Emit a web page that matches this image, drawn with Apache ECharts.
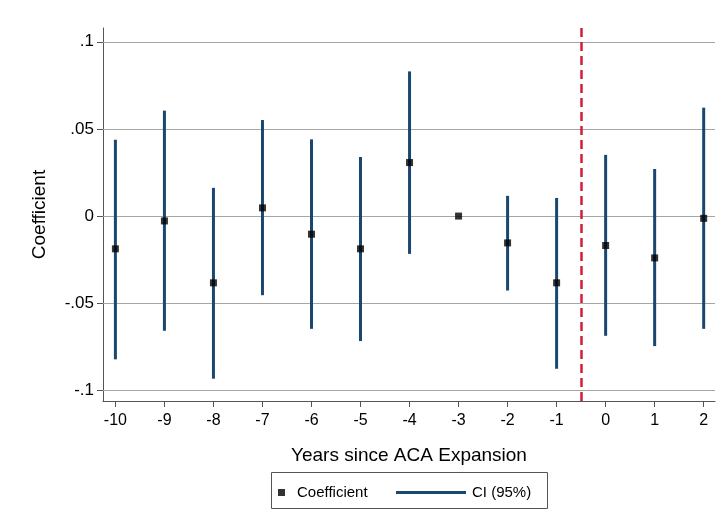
<!DOCTYPE html>
<html>
<head>
<meta charset="utf-8">
<script src="https://cdn.jsdelivr.net/npm/echarts@6/dist/echarts.min.js"></script>
<style>html,body{margin:0;padding:0;background:#fff;}#c{width:724px;height:529px;}</style>
</head>
<body>
<div id="c"></div>
<script>
const years = [-10, -9, -8, -7, -6, -5, -4, -3, -2, -1, 0, 1, 2];
const coef = [-0.0188, -0.0028, -0.0383, 0.0047, -0.0104, -0.0188, 0.0307, 0.0, -0.0154, -0.0383, -0.0169, -0.0240, -0.0013];
const ciLow = [-0.0822, -0.0658, -0.0933, -0.0454, -0.0647, -0.0717, -0.0217, 0.0, -0.0427, -0.0876, -0.0687, -0.0746, -0.0647];
const ciHigh = [0.0438, 0.0605, 0.0162, 0.0551, 0.0440, 0.0339, 0.0830, 0.0, 0.0116, 0.0104, 0.0351, 0.0270, 0.0622];
const yTicks = [-0.1, -0.05, 0, 0.05, 0.1];
const yTickLabels = ['-.1', '-.05', '0', '.05', '.1'];
const xTicks = years;
const expansionLine = -0.5;

const FONT = 'Liberation Sans, Arial, sans-serif';
const chart = echarts.init(document.getElementById('c'));

const ciData = years.map((y, i) => [y, ciLow[i], ciHigh[i]]);
const ptData = years.map((y, i) => [y, coef[i]]);

chart.setOption({
  animation: false,
  backgroundColor: '#fff',
  grid: { left: 103, right: 9, top: 28, bottom: 128 },
  xAxis: {
    type: 'value', min: -10.253, max: 2.231,
    axisLine: { show: true, onZero: false, lineStyle: { color: '#555', width: 1 } },
    axisTick: { show: true, customValues: xTicks, length: 6, lineStyle: { color: '#555' } },
    axisLabel: { customValues: xTicks, fontSize: 16, color: '#000', fontFamily: FONT, margin: 12 },
    splitLine: { show: false },
    name: 'Years since ACA Expansion', nameLocation: 'middle', nameGap: 45,
    nameTextStyle: { fontSize: 19, color: '#000', fontFamily: FONT }
  },
  yAxis: {
    type: 'value', min: -0.1061, max: 0.1079,
    axisLine: { show: true, onZero: false, lineStyle: { color: '#555', width: 1 } },
    axisTick: { show: true, customValues: yTicks, length: 6, lineStyle: { color: '#555' } },
    axisLabel: { customValues: yTicks, fontSize: 17, color: '#000', fontFamily: FONT, margin: 9,
      formatter: v => { const i = yTicks.findIndex(t => Math.abs(t - v) < 1e-9); return i >= 0 ? yTickLabels[i] : ''; } },
    splitLine: { show: false },
    name: 'Coefficient', nameLocation: 'middle', nameGap: 54, nameRotate: 90,
    nameTextStyle: { fontSize: 19, color: '#000', fontFamily: FONT }
  },
  legend: [
    { data: [{ name: 'Coefficient', icon: 'rect' }], left: 273, top: 480, itemWidth: 7, itemHeight: 7,
      textStyle: { fontSize: 15, color: '#000', fontFamily: FONT, padding: [0, 0, 0, 7] }, selectedMode: false },
    { data: [{ name: 'CI (95%)', icon: 'rect' }], left: 391, top: 480, itemWidth: 70, itemHeight: 3,
      textStyle: { fontSize: 15, color: '#000', fontFamily: FONT, padding: [0, 0, 0, 1] }, selectedMode: false }
  ],
  graphic: [
    { type: 'rect', shape: { x: 271.5, y: 472.5, width: 276, height: 36 }, style: { fill: 'none', stroke: '#555', lineWidth: 1 }, silent: true }
  ],
  series: [
    {
      type: 'line', data: [], z: 1, silent: true,
      markLine: {
        silent: true, symbol: 'none', label: { show: false }, animation: false, z: 1,
        lineStyle: { color: '#a6a6a6', width: 1, type: 'solid' },
        data: yTicks.map(v => ({ yAxis: v }))
      }
    },
    {
      name: 'CI (95%)', type: 'custom', z: 2, data: ciData,
      itemStyle: { color: '#1a476f' },
      encode: { x: 0, y: [1, 2] },
      renderItem: (params, api) => {
        const x = api.value(0);
        const a = api.coord([x, api.value(1)]);
        const b = api.coord([x, api.value(2)]);
        return { type: 'line', shape: { x1: a[0], y1: a[1], x2: b[0], y2: b[1] },
          style: { stroke: '#1a476f', lineWidth: 3 } };
      }
    },
    {
      name: 'Coefficient', type: 'scatter', z: 3, data: ptData, symbol: 'rect', symbolSize: 7,
      itemStyle: { color: '#000' },
      markLine: {
        silent: true, symbol: 'none', label: { show: false }, animation: false, z: 4,
        lineStyle: { color: '#d41c3c', width: 2.5, type: [9, 5] },
        data: [{ xAxis: expansionLine }]
      }
    }
  ]
});
</script>
</body>
</html>
